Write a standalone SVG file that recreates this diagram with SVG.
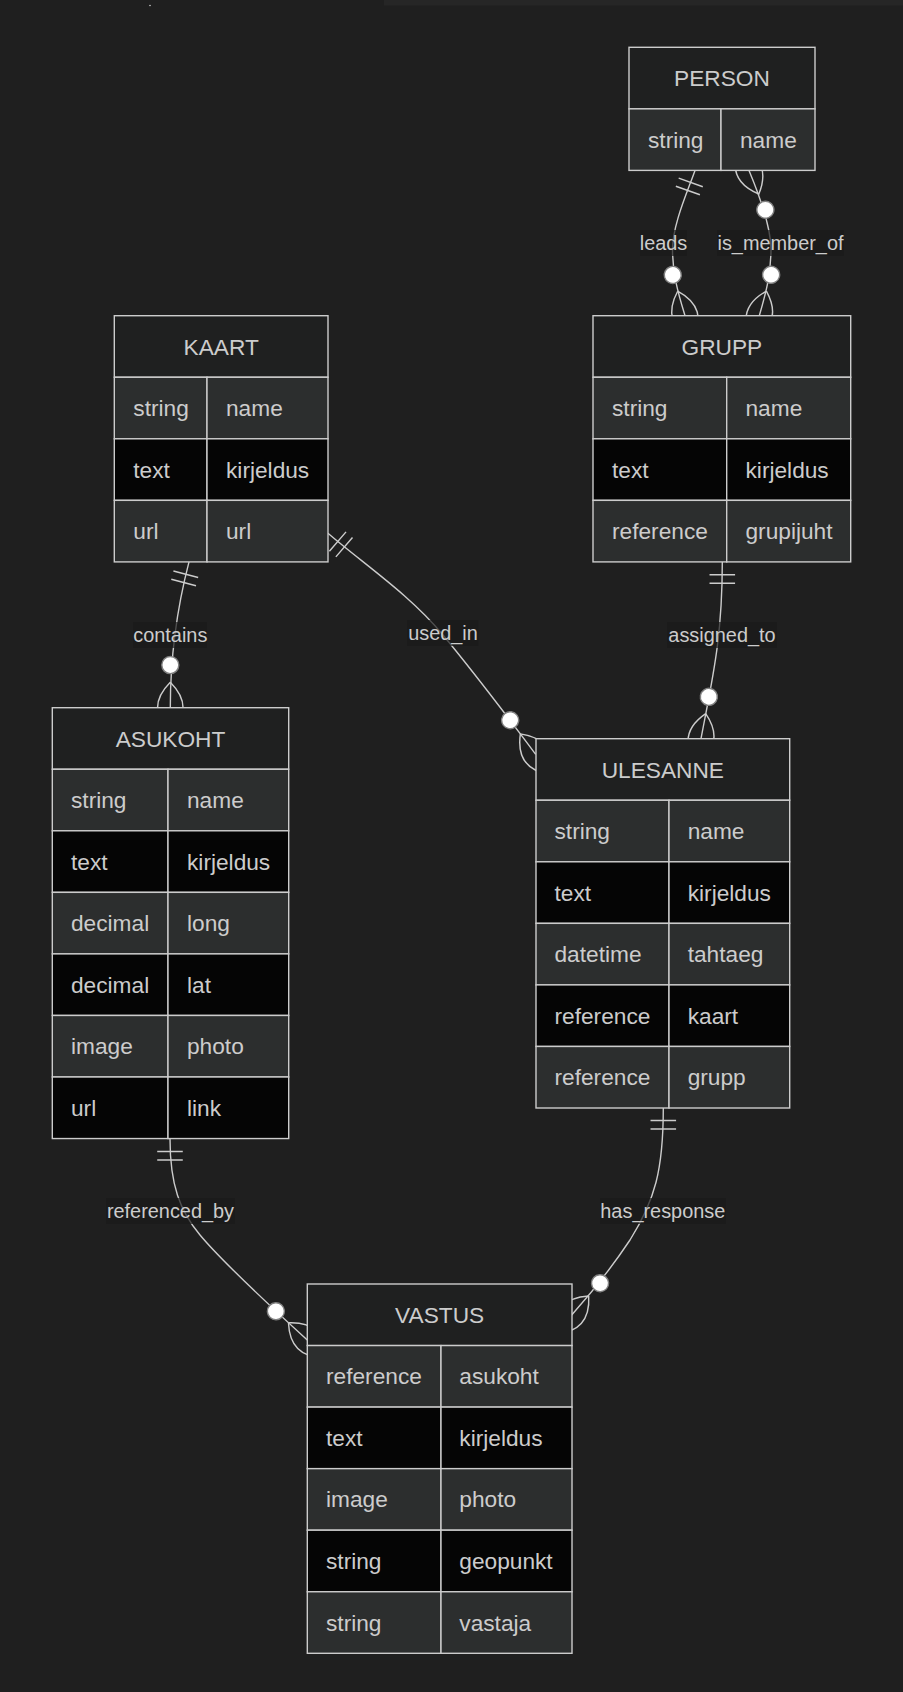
<svg xmlns="http://www.w3.org/2000/svg" width="903" height="1692" viewBox="0 0 903 1692">
  <style>
    .bg { fill: #1f1f1f; }
    .hdr { fill: #1f2020; stroke: #cccccc; stroke-width: 1.4; }
    .odd { fill: #2c2e2e; stroke: #cccccc; stroke-width: 1.4; }
    .even { fill: #050505; stroke: #cccccc; stroke-width: 1.4; }
    .title { font-family: "Liberation Sans", Arial, sans-serif; font-size: 22.7px; fill: #cccccc; text-anchor: middle; dominant-baseline: central; }
    .attr { font-family: "Liberation Sans", Arial, sans-serif; font-size: 22.7px; fill: #cccccc; dominant-baseline: central; }
    .rel { fill: none; stroke: #cccccc; stroke-width: 1.4; }
    .lblbox { fill: #1a1a1a; opacity: 0.7; }
    .lbl { font-family: "Liberation Sans", Arial, sans-serif; font-size: 19.9px; fill: #cccccc; text-anchor: middle; dominant-baseline: central; }
    .mk { fill: none; stroke: #cccccc; stroke-width: 1; }
    .mkc { fill: #ffffff; stroke: #808080; stroke-width: 1; }
  </style>
  <defs>
    <marker id="onlyOneStart" viewBox="0 0 18 18" markerWidth="25.56" markerHeight="25.56" refX="0" refY="9" orient="auto" markerUnits="userSpaceOnUse" overflow="visible">
      <path class="mk" d="M9,0 L9,18 M15,0 L15,18"/>
    </marker>
    <marker id="zeroOrMoreStart" viewBox="0 0 57 36" markerWidth="80.94" markerHeight="51.12" refX="18" refY="18" orient="auto" markerUnits="userSpaceOnUse" overflow="visible">
      <circle class="mkc" cx="48" cy="18" r="6"/>
      <path class="mk" d="M0,18 Q18,0 36,18 Q18,36 0,18"/>
    </marker>
    <marker id="zeroOrMoreEnd" viewBox="0 0 57 36" markerWidth="80.94" markerHeight="51.12" refX="39" refY="18" orient="auto" markerUnits="userSpaceOnUse" overflow="visible">
      <circle class="mkc" cx="9" cy="18" r="6"/>
      <path class="mk" d="M21,18 Q39,0 57,18 Q39,36 21,18"/>
    </marker>
  </defs>

  <rect class="bg" x="0" y="0" width="903" height="1692"/>
  <rect x="384" y="0" width="519" height="5.5" fill="#262626"/>
  <circle cx="150" cy="5.5" r="0.8" fill="#cccccc"/>

  <!-- relationships -->
  <g id="connectors">
    <path class="rel" d="M695,170.4 C687,193 672.5,225 672.5,250 C672.5,275 679,295.7 685,315.7" marker-start="url(#onlyOneStart)" marker-end="url(#zeroOrMoreEnd)"/>
    <path class="rel" d="M749,170.4 C758,192 771,225 771,250 C771,275 765,296 759.3,315.7" marker-start="url(#zeroOrMoreStart)" marker-end="url(#zeroOrMoreEnd)"/>
    <path class="rel" d="M189,561.9 C183,585 170.3,640 170.3,707.7" marker-start="url(#onlyOneStart)" marker-end="url(#zeroOrMoreEnd)"/>
    <path class="rel" d="M328,533.3 C365,565 410,595 443,635 C476,675 510,720 535.7,754.3" marker-start="url(#onlyOneStart)" marker-end="url(#zeroOrMoreEnd)"/>
    <path class="rel" d="M722.3,561.9 C722.3,640 712,680 701,738.7" marker-start="url(#onlyOneStart)" marker-end="url(#zeroOrMoreEnd)"/>
    <path class="rel" d="M170,1138.7 C170,1185 180,1211 200,1235 C225,1265 280,1315 307.3,1340" marker-start="url(#onlyOneStart)" marker-end="url(#zeroOrMoreEnd)"/>
    <path class="rel" d="M663.3,1107.7 C663.3,1170 655,1200 630,1240 C612,1267 590,1294.5 571.7,1315" marker-start="url(#onlyOneStart)" marker-end="url(#zeroOrMoreEnd)"/>

    <rect class="lblbox" x="640" y="230" width="47" height="26"/>
    <text class="lbl" x="663.5" y="243">leads</text>
    <rect class="lblbox" x="717" y="230" width="127" height="26"/>
    <text class="lbl" x="780.5" y="243">is_member_of</text>
    <rect class="lblbox" x="133" y="622" width="74" height="26"/>
    <text class="lbl" x="170.3" y="635">contains</text>
    <rect class="lblbox" x="407.3" y="620" width="71" height="26"/>
    <text class="lbl" x="443" y="633">used_in</text>
    <rect class="lblbox" x="667" y="622" width="110" height="26"/>
    <text class="lbl" x="722" y="635">assigned_to</text>
    <rect class="lblbox" x="106" y="1198" width="129" height="26"/>
    <text class="lbl" x="170.5" y="1211">referenced_by</text>
    <rect class="lblbox" x="600" y="1198" width="126" height="26"/>
    <text class="lbl" x="662.8" y="1211">has_response</text>
  </g>

  <!-- entities -->
  <g id="PERSON">
    <rect class="hdr" x="629" y="47.3" width="186" height="61.55"/>
    <text class="title" x="722" y="78.1">PERSON</text>
    <rect class="odd" x="629" y="108.85" width="92" height="61.55"/>
    <rect class="odd" x="721" y="108.85" width="94" height="61.55"/>
    <text class="attr" x="648" y="139.6">string</text>
    <text class="attr" x="740" y="139.6">name</text>
  </g>

  <g id="KAART">
    <rect class="hdr" x="114.3" y="315.7" width="213.7" height="61.55"/>
    <text class="title" x="221.15" y="346.5">KAART</text>
    <rect class="odd" x="114.3" y="377.25" width="92.7" height="61.55"/>
    <rect class="odd" x="207" y="377.25" width="121" height="61.55"/>
    <text class="attr" x="133.3" y="408">string</text>
    <text class="attr" x="226" y="408">name</text>
    <rect class="even" x="114.3" y="438.8" width="92.7" height="61.55"/>
    <rect class="even" x="207" y="438.8" width="121" height="61.55"/>
    <text class="attr" x="133.3" y="469.6">text</text>
    <text class="attr" x="226" y="469.6">kirjeldus</text>
    <rect class="odd" x="114.3" y="500.35" width="92.7" height="61.55"/>
    <rect class="odd" x="207" y="500.35" width="121" height="61.55"/>
    <text class="attr" x="133.3" y="531.1">url</text>
    <text class="attr" x="226" y="531.1">url</text>
  </g>

  <g id="GRUPP">
    <rect class="hdr" x="593" y="315.7" width="257.7" height="61.55"/>
    <text class="title" x="721.85" y="346.5">GRUPP</text>
    <rect class="odd" x="593" y="377.25" width="133.7" height="61.55"/>
    <rect class="odd" x="726.7" y="377.25" width="124" height="61.55"/>
    <text class="attr" x="612" y="408">string</text>
    <text class="attr" x="745.5" y="408">name</text>
    <rect class="even" x="593" y="438.8" width="133.7" height="61.55"/>
    <rect class="even" x="726.7" y="438.8" width="124" height="61.55"/>
    <text class="attr" x="612" y="469.6">text</text>
    <text class="attr" x="745.5" y="469.6">kirjeldus</text>
    <rect class="odd" x="593" y="500.35" width="133.7" height="61.55"/>
    <rect class="odd" x="726.7" y="500.35" width="124" height="61.55"/>
    <text class="attr" x="612" y="531.1">reference</text>
    <text class="attr" x="745.5" y="531.1">grupijuht</text>
  </g>

  <g id="ASUKOHT">
    <rect class="hdr" x="52.3" y="707.7" width="236.4" height="61.55"/>
    <text class="title" x="170.5" y="738.5">ASUKOHT</text>
    <rect class="odd" x="52.3" y="769.25" width="115.7" height="61.55"/>
    <rect class="odd" x="168" y="769.25" width="120.7" height="61.55"/>
    <text class="attr" x="71" y="800">string</text>
    <text class="attr" x="187" y="800">name</text>
    <rect class="even" x="52.3" y="830.8" width="115.7" height="61.55"/>
    <rect class="even" x="168" y="830.8" width="120.7" height="61.55"/>
    <text class="attr" x="71" y="861.6">text</text>
    <text class="attr" x="187" y="861.6">kirjeldus</text>
    <rect class="odd" x="52.3" y="892.35" width="115.7" height="61.55"/>
    <rect class="odd" x="168" y="892.35" width="120.7" height="61.55"/>
    <text class="attr" x="71" y="923.1">decimal</text>
    <text class="attr" x="187" y="923.1">long</text>
    <rect class="even" x="52.3" y="953.9" width="115.7" height="61.55"/>
    <rect class="even" x="168" y="953.9" width="120.7" height="61.55"/>
    <text class="attr" x="71" y="984.7">decimal</text>
    <text class="attr" x="187" y="984.7">lat</text>
    <rect class="odd" x="52.3" y="1015.45" width="115.7" height="61.55"/>
    <rect class="odd" x="168" y="1015.45" width="120.7" height="61.55"/>
    <text class="attr" x="71" y="1046.2">image</text>
    <text class="attr" x="187" y="1046.2">photo</text>
    <rect class="even" x="52.3" y="1077" width="115.7" height="61.55"/>
    <rect class="even" x="168" y="1077" width="120.7" height="61.55"/>
    <text class="attr" x="71" y="1107.8">url</text>
    <text class="attr" x="187" y="1107.8">link</text>
  </g>

  <g id="ULESANNE">
    <rect class="hdr" x="536" y="738.7" width="253.7" height="61.55"/>
    <text class="title" x="662.85" y="769.5">ULESANNE</text>
    <rect class="odd" x="536" y="800.25" width="133" height="61.55"/>
    <rect class="odd" x="669" y="800.25" width="120.7" height="61.55"/>
    <text class="attr" x="554.5" y="831">string</text>
    <text class="attr" x="687.7" y="831">name</text>
    <rect class="even" x="536" y="861.8" width="133" height="61.55"/>
    <rect class="even" x="669" y="861.8" width="120.7" height="61.55"/>
    <text class="attr" x="554.5" y="892.6">text</text>
    <text class="attr" x="687.7" y="892.6">kirjeldus</text>
    <rect class="odd" x="536" y="923.35" width="133" height="61.55"/>
    <rect class="odd" x="669" y="923.35" width="120.7" height="61.55"/>
    <text class="attr" x="554.5" y="954.1">datetime</text>
    <text class="attr" x="687.7" y="954.1">tahtaeg</text>
    <rect class="even" x="536" y="984.9" width="133" height="61.55"/>
    <rect class="even" x="669" y="984.9" width="120.7" height="61.55"/>
    <text class="attr" x="554.5" y="1015.7">reference</text>
    <text class="attr" x="687.7" y="1015.7">kaart</text>
    <rect class="odd" x="536" y="1046.45" width="133" height="61.55"/>
    <rect class="odd" x="669" y="1046.45" width="120.7" height="61.55"/>
    <text class="attr" x="554.5" y="1077.2">reference</text>
    <text class="attr" x="687.7" y="1077.2">grupp</text>
  </g>

  <g id="VASTUS">
    <rect class="hdr" x="307.3" y="1284" width="264.7" height="61.55"/>
    <text class="title" x="439.65" y="1314.8">VASTUS</text>
    <rect class="odd" x="307.3" y="1345.55" width="133.7" height="61.55"/>
    <rect class="odd" x="441" y="1345.55" width="131" height="61.55"/>
    <text class="attr" x="326" y="1376.3">reference</text>
    <text class="attr" x="459.3" y="1376.3">asukoht</text>
    <rect class="even" x="307.3" y="1407.1" width="133.7" height="61.55"/>
    <rect class="even" x="441" y="1407.1" width="131" height="61.55"/>
    <text class="attr" x="326" y="1437.9">text</text>
    <text class="attr" x="459.3" y="1437.9">kirjeldus</text>
    <rect class="odd" x="307.3" y="1468.65" width="133.7" height="61.55"/>
    <rect class="odd" x="441" y="1468.65" width="131" height="61.55"/>
    <text class="attr" x="326" y="1499.4">image</text>
    <text class="attr" x="459.3" y="1499.4">photo</text>
    <rect class="even" x="307.3" y="1530.2" width="133.7" height="61.55"/>
    <rect class="even" x="441" y="1530.2" width="131" height="61.55"/>
    <text class="attr" x="326" y="1561">string</text>
    <text class="attr" x="459.3" y="1561">geopunkt</text>
    <rect class="odd" x="307.3" y="1591.75" width="133.7" height="61.55"/>
    <rect class="odd" x="441" y="1591.75" width="131" height="61.55"/>
    <text class="attr" x="326" y="1622.5">string</text>
    <text class="attr" x="459.3" y="1622.5">vastaja</text>
  </g>
</svg>
